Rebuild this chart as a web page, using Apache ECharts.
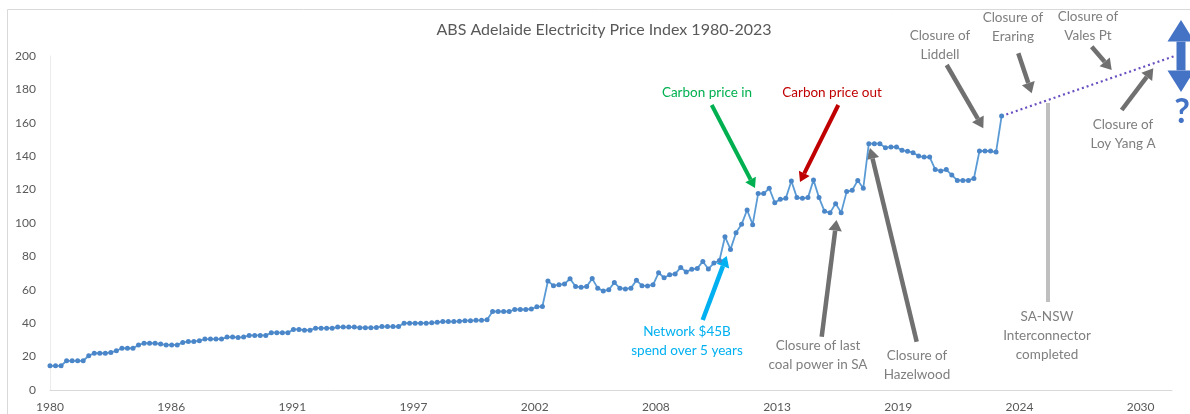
<!DOCTYPE html>
<html>
<head>
<meta charset="utf-8">
<script src="https://cdn.jsdelivr.net/npm/echarts@6/dist/echarts.min.js"></script>
<style>
html, body { margin: 0; padding: 0; background: #ffffff; }
#chart { width: 1190px; height: 414px; }
</style>
</head>
<body>
<div id="chart"></div>
<script>
// Quarterly index, Sep quarter 1980 (index 0) to Sep quarter 2023 (index 172)
const priceIndex = [
  14.5, 14.5, 14.5, 17.5, 17.5, 17.5, 17.5, 20.5, 22, 22,
  22, 22.5, 23.5, 25, 25, 25, 27, 28, 28, 28,
  27.5, 27, 27, 27, 28.5, 29, 29, 29.5, 30.5, 30.5,
  30.5, 30.5, 31.7, 31.7, 31.5, 31.7, 32.7, 32.7, 32.7, 32.7,
  34.3, 34.3, 34.3, 34.3, 36.3, 36.3, 35.8, 35.8, 37, 37,
  37, 37, 37.7, 37.7, 37.7, 37.7, 37.3, 37.3, 37.3, 37.5,
  38, 38, 38, 38, 40, 40, 40, 40, 40, 40.2,
  40.5, 41, 41, 41, 41.2, 41.5, 41.5, 41.7, 41.8, 42,
  47, 47, 47, 47, 48.2, 48.2, 48.2, 48.5, 49.8, 50,
  65.3, 62.5, 63, 63.5, 66.6, 62, 61.5, 62, 66.7, 61,
  59.3, 60, 64.3, 61, 60.5, 61, 65.7, 62.5, 62.3, 63,
  70.2, 67.2, 69, 69.5, 73.4, 70.7, 72.3, 72.8, 77, 72.5,
  76, 77.5, 91.8, 84.2, 94.2, 99.2, 107.8, 99, 117.6, 117.6,
  120.8, 112.2, 114.2, 114.8, 125.1, 115.2, 114.8, 115.2, 125.7, 115.2,
  107, 106.2, 111.6, 106.2, 118.8, 119.6, 125.5, 120.8, 147.5, 147.5,
  147.5, 145.1, 145.5, 145.5, 143.5, 143, 142.1, 140.1, 139.5, 139.5,
  132.1, 131.1, 132, 128.7, 125.5, 125.5, 125.5, 126.7, 143.1, 143.1,
  143.1, 142.5, 164
];

// Projected path beyond the last observation (quarter index, value)
const projectionQuarters = [172, 203.3];
const projectionValues = [164, 200];

// Date-axis labels, one every 2000 days from the first observation
const xTickLabels = ['1980', '1986', '1991', '1997', '2002', '2008', '2013', '2019', '2024', '2030'];
const yTickValues = [0, 20, 40, 60, 80, 100, 120, 140, 160, 180, 200];

const tickStep = 2000 / 91.3125; // 2000 days expressed in quarters

const seriesData = priceIndex.map((v, i) => [i, v]);
const projectionData = projectionQuarters.map((q, i) => [q, projectionValues[i]]);

const FONT = 'Lato, "Open Sans", sans-serif';
const GREY_TEXT = '#7f7f7f';
const GREY_ARROW = '#707070';

function arrow(x1, y1, x2, y2, color, w) {
  const dx = x2 - x1, dy = y2 - y1;
  const L = Math.hypot(dx, dy);
  const ux = dx / L, uy = dy / L;
  const hl = w * 2.4, hw = w * 1.5;
  const bx = x2 - ux * hl, by = y2 - uy * hl;
  return [
    { type: 'line', shape: { x1: x1, y1: y1, x2: bx, y2: by }, style: { stroke: color, lineWidth: w } },
    { type: 'polygon', shape: { points: [[x2, y2], [bx - uy * hw, by + ux * hw], [bx + uy * hw, by - ux * hw]] }, style: { fill: color } }
  ];
}

function label(x, y, text, color, size) {
  return {
    type: 'text', x: x, y: y,
    style: {
      text: text, fill: color, font: (size || 13) + 'px ' + FONT,
      textAlign: 'center', textVerticalAlign: 'middle', lineHeight: 19
    }
  };
}

const graphics = [].concat(
  // frame
  [{ type: 'rect', shape: { x: 7.5, y: 9.5, width: 1200, height: 420 }, style: { fill: 'none', stroke: '#d9d9d9', lineWidth: 1 }, z: -1 }],
  // title
  [{ type: 'text', x: 604, y: 30, style: { text: 'ABS Adelaide Electricity Price Index 1980-2023', fill: '#595959', font: '16px ' + FONT, textAlign: 'center', textVerticalAlign: 'middle' } }],
  // annotations
  [label(707, 93, 'Carbon price in', '#00b050', 13.5)],
  arrow(711.7, 105, 755, 188, '#00b050', 4),
  [label(832, 93, 'Carbon price out', '#c00000', 13.5)],
  arrow(838.3, 105, 800, 182, '#c00000', 4),
  [label(687, 341, 'Network $45B\nspend over 5 years', '#00b0f0', 13.5)],
  arrow(702.7, 320, 726.7, 256, '#00b0f0', 4.5),
  [label(818, 355, 'Closure of last\ncoal power in SA', GREY_TEXT, 13.5)],
  arrow(821.7, 336.7, 836.5, 220, GREY_ARROW, 4.5),
  [label(917, 365, 'Closure of\nHazelwood', GREY_TEXT, 13.5)],
  arrow(916.7, 341.7, 870, 148, GREY_ARROW, 4.5),
  [{ type: 'line', shape: { x1: 1048, y1: 103, x2: 1048, y2: 302 }, style: { stroke: '#bfbfbf', lineWidth: 4 } }],
  [label(1047, 336, 'SA-NSW\nInterconnector\ncompleted', GREY_TEXT, 13.5)],
  [label(940, 45, 'Closure of\nLiddell', GREY_TEXT, 13.5)],
  arrow(946.7, 65, 983.3, 128.3, GREY_ARROW, 4.5),
  [label(1013, 27, 'Closure of\nEraring', GREY_TEXT, 13.5)],
  arrow(1018.3, 53.3, 1031.7, 93.3, GREY_ARROW, 4.5),
  [label(1088, 26, 'Closure of\nVales Pt', GREY_TEXT, 13.5)],
  arrow(1091.7, 46.7, 1111.7, 70, GREY_ARROW, 4.5),
  [label(1123, 134, 'Closure of\nLoy Yang A', GREY_TEXT, 13.5)],
  arrow(1121.7, 110, 1153.3, 68.3, GREY_ARROW, 4.5),
  // range arrow and question mark
  arrow(1181, 56, 1181, 20, '#4472c4', 9),
  arrow(1181, 56, 1181, 92, '#4472c4', 9),
  [{ type: 'text', x: 1182, y: 112, style: { text: '?', fill: '#4472c4', font: 'bold 34px ' + FONT, textAlign: 'center', textVerticalAlign: 'middle' } }]
);

const chart = echarts.init(document.getElementById('chart'), null, { renderer: 'canvas' });
chart.setOption({
  backgroundColor: '#ffffff',
  animation: false,
  grid: { left: 50, right: 18, top: 56, bottom: 24 },
  xAxis: {
    type: 'value',
    min: 0,
    max: 202.8,
    interval: tickStep,
    axisLine: { show: true, lineStyle: { color: '#d9d9d9', width: 1 } },
    axisTick: { show: false },
    splitLine: { show: false },
    axisLabel: {
      color: '#595959', fontFamily: FONT, fontSize: 12, margin: 11, showMaxLabel: false,
      formatter: function (v) {
        const k = Math.round(v / tickStep);
        return Math.abs(v - k * tickStep) < 0.01 && xTickLabels[k] ? xTickLabels[k] : '';
      }
    }
  },
  yAxis: {
    type: 'value',
    min: yTickValues[0],
    max: yTickValues[yTickValues.length - 1],
    interval: 20,
    axisLine: { show: true, lineStyle: { color: '#ececec', width: 1 } },
    axisTick: { show: false },
    splitLine: { show: false },
    axisLabel: { color: '#595959', fontFamily: FONT, fontSize: 12, margin: 14 }
  },
  series: [
    {
      type: 'line',
      data: seriesData,
      symbol: 'circle',
      symbolSize: 5,
      showAllSymbol: true,
      lineStyle: { color: '#5b9bd5', width: 1.8 },
      itemStyle: { color: '#4a86c8' },
      z: 3
    },
    {
      type: 'line',
      data: projectionData,
      symbol: 'none',
      clip: false,
      lineStyle: { color: '#6a4fc0', width: 2.2, type: [2, 3] },
      z: 2
    }
  ],
  graphic: graphics
});
</script>
</body>
</html>
